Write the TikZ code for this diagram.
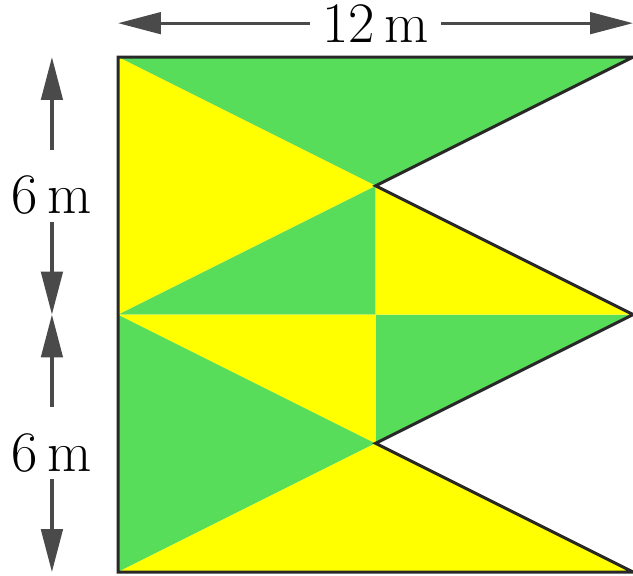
\documentclass[tikz,border=0pt]{standalone}
\usepackage{xcolor}
\usepackage{tikz}
\usetikzlibrary{arrows.meta}

\definecolor{leafgreen}{RGB}{88,221,90}
\definecolor{sunyellow}{RGB}{255,255,0}
\definecolor{dimgray}{RGB}{74,74,74}
\definecolor{edgegray}{RGB}{40,40,40}

\begin{document}
\begin{tikzpicture}[
    dimline/.style={{Triangle[length=1cm, width=0.5cm]}-{Triangle[length=1cm, width=0.5cm]}, line width=2.2pt, draw=dimgray, fill=dimgray},
    dimlabel/.style={fill=white, inner xsep=8pt, inner ysep=4.7pt, text height=1.32cm, font=\fontsize{38}{40}\selectfont},
    greenpart/.style={fill=leafgreen},
    yellowpart/.style={fill=sunyellow},
    outline/.style={draw=edgegray, line width=2pt, line join=miter}
]
\useasboundingbox (-2.75,-0.07) rectangle (12,13.33);

% Corner and inner points (1 m = 1 cm)
\coordinate (tl) at (0,12);
\coordinate (tr) at (12,12);
\coordinate (ml) at (0,6);
\coordinate (mr) at (12,6);
\coordinate (bl) at (0,0);
\coordinate (br) at (12,0);
\coordinate (up) at (6,9);
\coordinate (ctr) at (6,6);
\coordinate (lo) at (6,3);

% Green triangles
\fill[greenpart] (tl) -- (tr) -- (up) -- cycle;
\fill[greenpart] (ml) -- (up) -- (ctr) -- cycle;
\fill[greenpart] (ctr) -- (mr) -- (lo) -- cycle;
\fill[greenpart] (ml) -- (lo) -- (bl) -- cycle;

% Yellow triangles
\fill[yellowpart] (tl) -- (up) -- (ml) -- cycle;
\fill[yellowpart] (up) -- (ctr) -- (mr) -- cycle;
\fill[yellowpart] (ml) -- (ctr) -- (lo) -- cycle;
\fill[yellowpart] (bl) -- (lo) -- (br) -- cycle;

% Outline
\draw[outline] (tl) -- (tr) -- (up) -- (mr) -- (lo) -- (br) -- (bl) -- cycle;

% Dimensions
\coordinate (wl) at (0,12.79);
\coordinate (wr) at (12,12.79);
\coordinate (ht) at (-1.54,12);
\coordinate (hm) at (-1.54,6);
\coordinate (hb) at (-1.54,0);

\draw[dimline] (wl) -- node[dimlabel, inner ysep=1pt, text height=, yshift=0pt] (wtext) {12\,m} (wr);
\draw[dimline] (ht) -- node[dimlabel] (htop) {6\,m} (hm);
\draw[dimline] (hm) -- node[dimlabel] (hbot) {6\,m} (hb);

\end{tikzpicture}
\end{document}
